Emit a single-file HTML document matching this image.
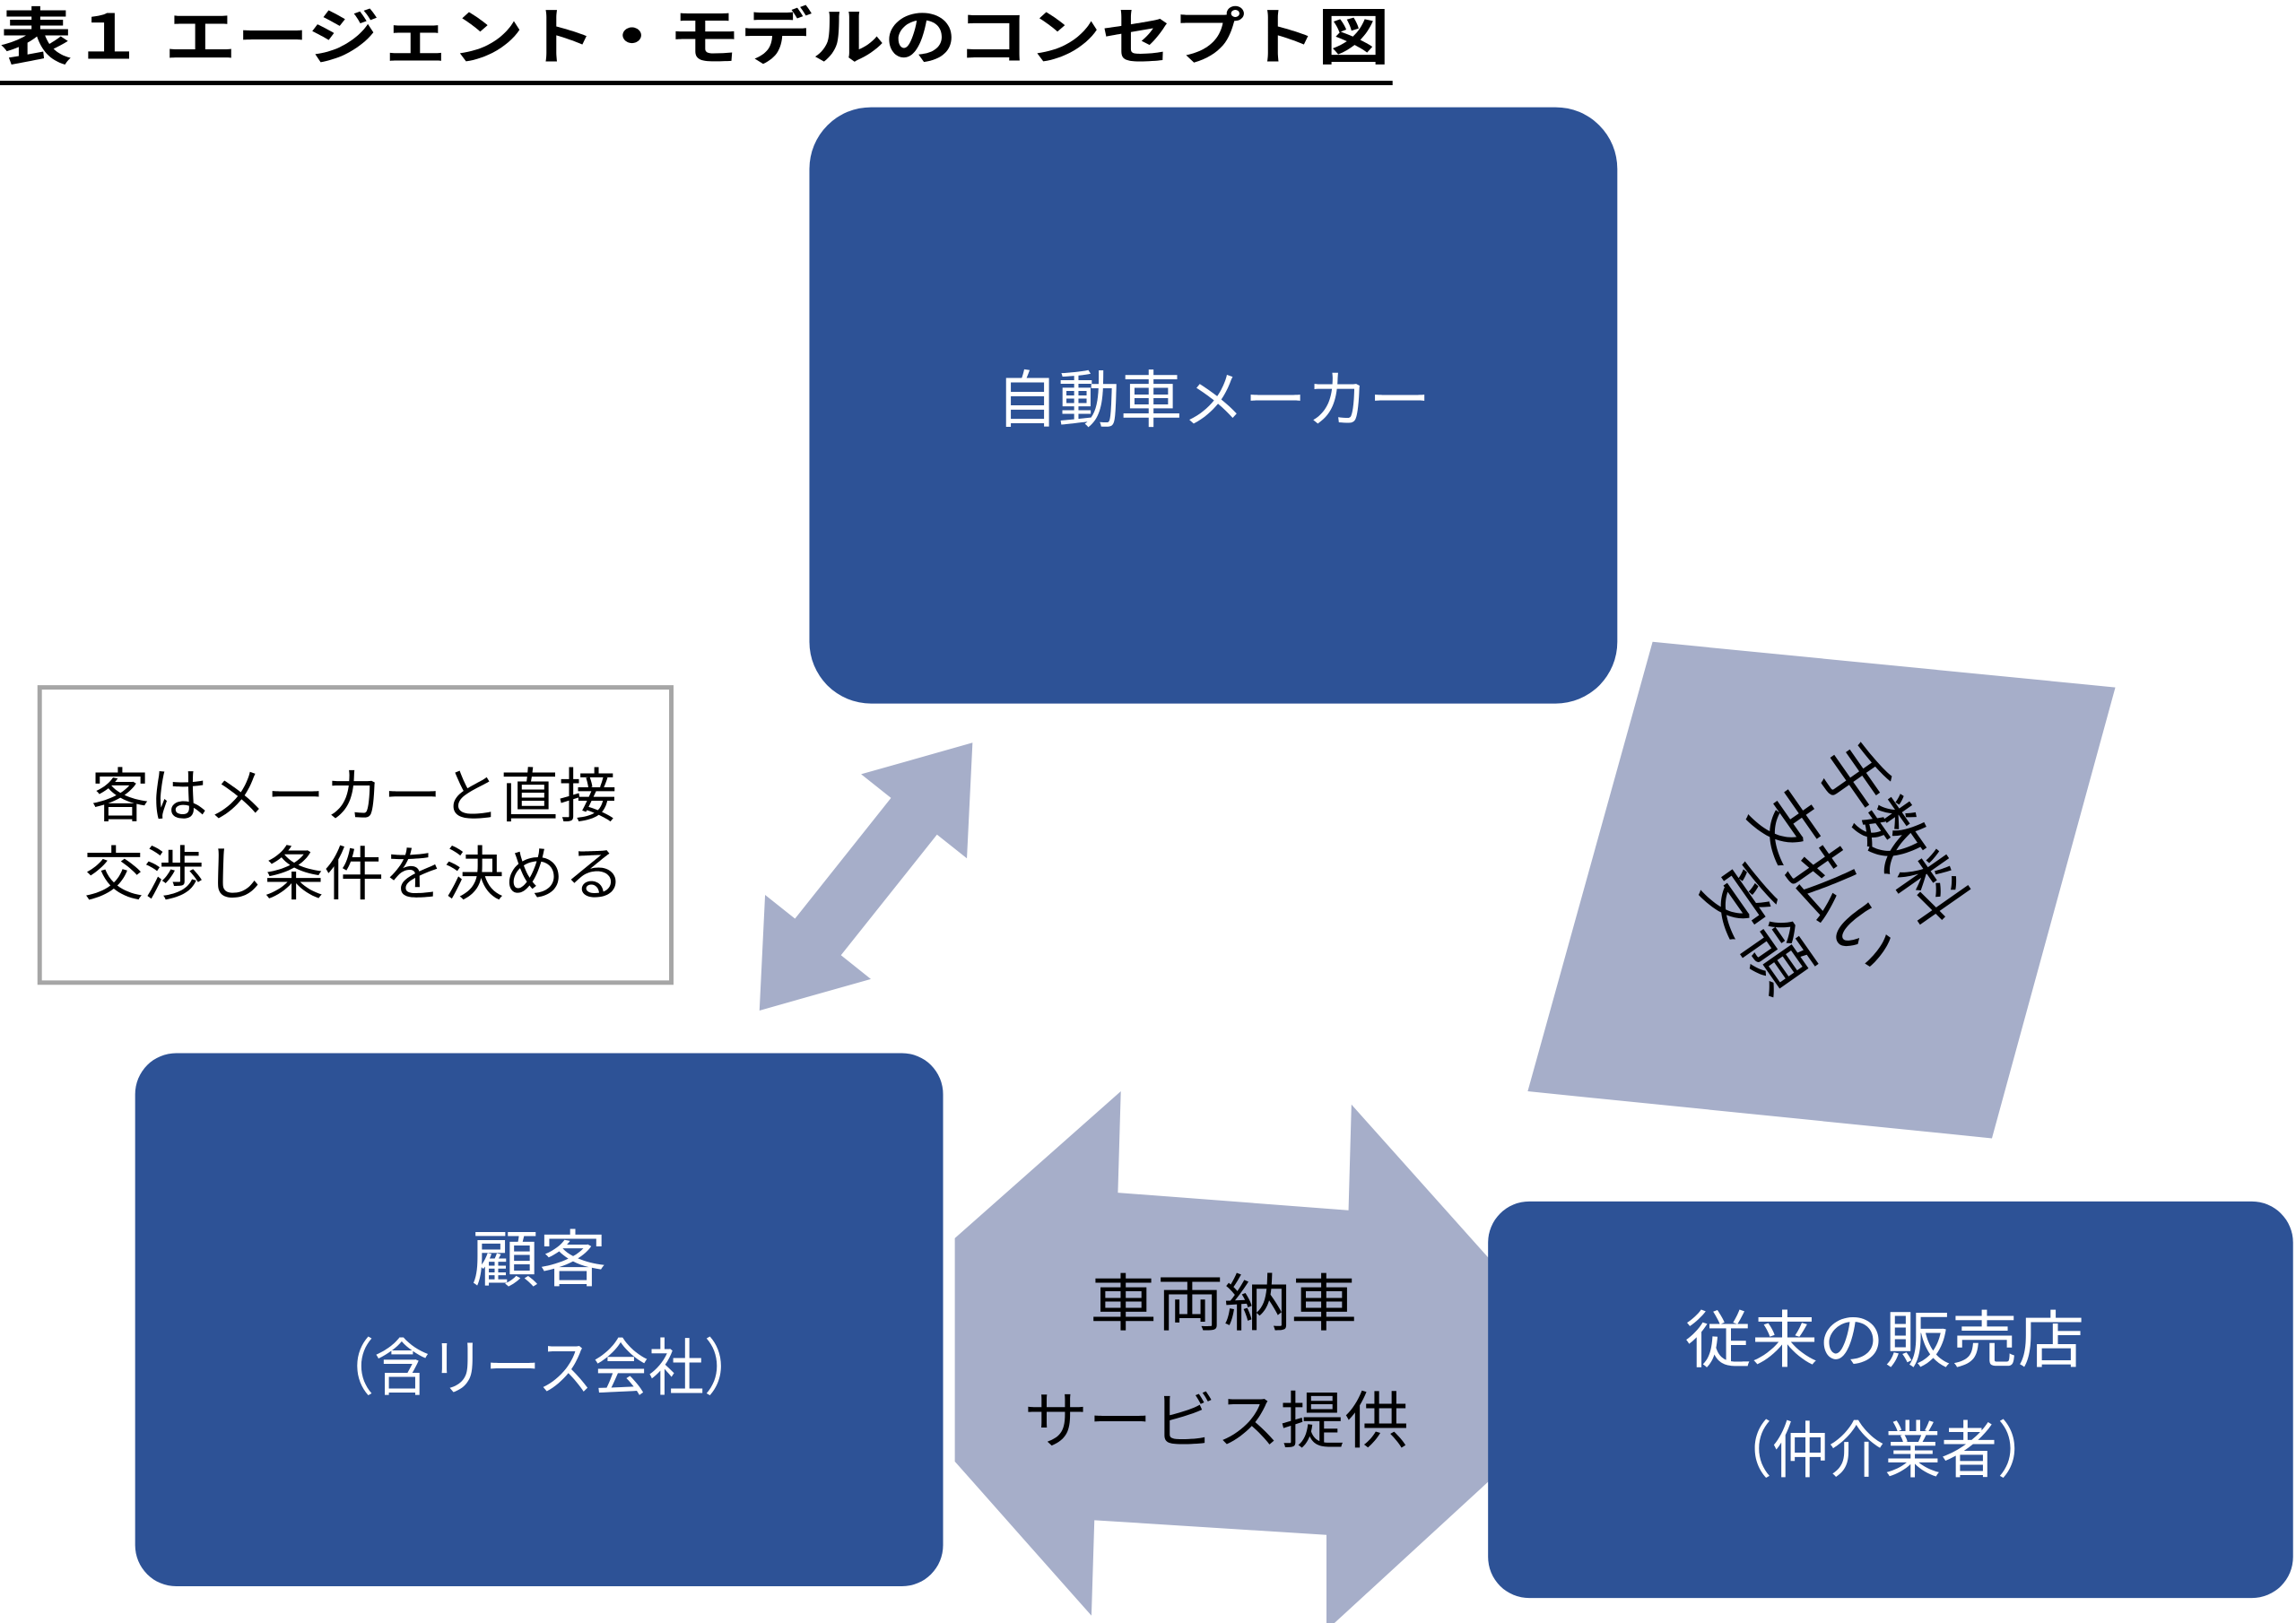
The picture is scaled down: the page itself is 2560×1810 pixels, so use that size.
<!DOCTYPE html>
<html><head><meta charset="utf-8"><style>
html,body{margin:0;padding:0;background:#fff;}
svg{display:block;}
text{font-family:"Liberation Sans","Noto Sans CJK JP",sans-serif;}
</style></head><body>
<svg width="2560" height="1810" viewBox="0 0 1563 1105" preserveAspectRatio="none" xmlns="http://www.w3.org/2000/svg">
<rect width="1563" height="1105" fill="#fff"/>
<text x="0" y="40" font-size="42" font-weight="bold" fill="#000" textLength="946" lengthAdjust="spacingAndGlyphs">表１ エージェント・モデルのコンセプト図</text>
<rect x="0" y="55" width="948" height="3" fill="#000"/>

<rect x="551" y="73" width="550" height="406" rx="42" fill="#2d5296"/>
<text x="826" y="287" font-size="42" fill="#fff" text-anchor="middle" textLength="296" lengthAdjust="spacingAndGlyphs">自動車メーカー</text>

<rect x="27" y="468" width="430" height="201" fill="#fff" stroke="#a6a6a6" stroke-width="3"/>
<text x="241" y="556" font-size="40" fill="#000" text-anchor="middle" textLength="358" lengthAdjust="spacingAndGlyphs">客はメーカーと直接</text>
<text x="241" y="609" font-size="40" fill="#000" text-anchor="middle" textLength="368" lengthAdjust="spacingAndGlyphs">交渉し条件を決める</text>

<g transform="translate(517,688) rotate(-51.5)">
<polygon points="0,0 64,-46 64,-20 169,-20 169,-46 233,0 169,46 169,20 64,20 64,46" fill="#a6aec9"/>
</g>

<polygon points="1125,437 1440,468 1356,775 1040,743" fill="#a6aec9"/>
<g transform="translate(1242,600) rotate(55)" font-size="46" fill="#000" text-anchor="middle">
<text x="0" y="-40">手数料</text>
<text x="0" y="16">支払い</text>
<text x="0" y="72">受領</text>
</g>

<rect x="92" y="717" width="550" height="363" rx="28" fill="#2d5296"/>
<text x="367" y="872" font-size="42" fill="#fff" text-anchor="middle" textLength="92" lengthAdjust="spacingAndGlyphs">顧客</text>
<text x="367" y="946" font-size="42" fill="#fff" text-anchor="middle" textLength="300" lengthAdjust="spacingAndGlyphs">（含リース会社）</text>

<polygon points="650,843 763,743 761,812 918,824 920,752 1088,940 903,1110 903,1045 745,1035 743,1100 650,995" fill="#a6aec9"/>
<text x="833" y="902" font-size="42" fill="#000" text-anchor="middle" textLength="182" lengthAdjust="spacingAndGlyphs">車両納車</text>
<text x="828" y="982" font-size="42" fill="#000" text-anchor="middle" textLength="262" lengthAdjust="spacingAndGlyphs">サービス提供</text>

<rect x="1013" y="818" width="548" height="270" rx="28" fill="#2d5296"/>
<text x="1283" y="927" font-size="42" fill="#fff" text-anchor="middle" textLength="272" lengthAdjust="spacingAndGlyphs">従来の販売店</text>
<text x="1283" y="1002" font-size="42" fill="#fff" text-anchor="middle" textLength="230" lengthAdjust="spacingAndGlyphs">（仲介業者）</text>
</svg>
</body></html>
